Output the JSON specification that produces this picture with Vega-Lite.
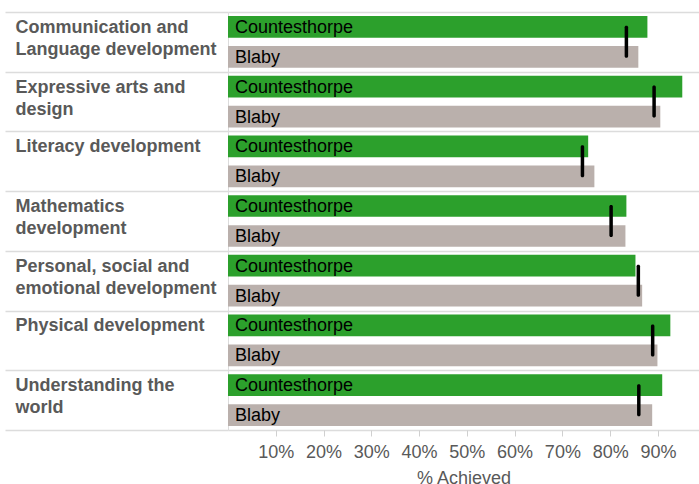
{
  "$schema": "https://vega.github.io/schema/vega-lite/v6.json",
  "width": 471,
  "height": 418,
  "padding": {"left": 228, "top": 12, "right": 0, "bottom": 54},
  "autosize": {"type": "none"},
  "config": {"view": {"stroke": null}, "font": "Liberation Sans"},
  "datasets": {
    "bars": [
      {"category": "Communication and Language development", "series": "Countesthorpe", "value": 0.878},
      {"category": "Communication and Language development", "series": "Blaby", "value": 0.859},
      {"category": "Expressive arts and design", "series": "Countesthorpe", "value": 0.951},
      {"category": "Expressive arts and design", "series": "Blaby", "value": 0.905},
      {"category": "Literacy development", "series": "Countesthorpe", "value": 0.754},
      {"category": "Literacy development", "series": "Blaby", "value": 0.767},
      {"category": "Mathematics development", "series": "Countesthorpe", "value": 0.834},
      {"category": "Mathematics development", "series": "Blaby", "value": 0.832},
      {"category": "Personal, social and emotional development", "series": "Countesthorpe", "value": 0.853},
      {"category": "Personal, social and emotional development", "series": "Blaby", "value": 0.867},
      {"category": "Physical development", "series": "Countesthorpe", "value": 0.926},
      {"category": "Physical development", "series": "Blaby", "value": 0.899},
      {"category": "Understanding the world", "series": "Countesthorpe", "value": 0.909},
      {"category": "Understanding the world", "series": "Blaby", "value": 0.888}
    ],
    "bench": [
      {"category": "Communication and Language development", "value": 0.834},
      {"category": "Expressive arts and design", "value": 0.892},
      {"category": "Literacy development", "value": 0.742},
      {"category": "Mathematics development", "value": 0.802},
      {"category": "Personal, social and emotional development", "value": 0.859},
      {"category": "Physical development", "value": 0.889},
      {"category": "Understanding the world", "value": 0.860}
    ]
  },
  "encoding": {
    "y": {
      "field": "category",
      "type": "nominal",
      "sort": null,
      "scale": {"paddingInner": 0, "paddingOuter": 0},
      "axis": {
        "title": null,
        "tickBand": "extent",
        "grid": true,
        "gridColor": "#dcdcdc",
        "gridWidth": 1.5,
        "ticks": true,
        "tickSize": 223,
        "tickColor": "#dcdcdc",
        "tickWidth": 1.5,
        "domain": true,
        "domainColor": "#dcdcdc",
        "domainWidth": 1,
        "labelAlign": "left",
        "labelBaseline": "alphabetic",
        "labelPadding": -10,
        "labelOffset": -9.5,
        "labelFontSize": 18,
        "labelFontWeight": "bold",
        "labelColor": "#595959",
        "labelLineHeight": 22,
        "labelLimit": 0,
        "labelExpr": "datum.label == 'Communication and Language development' ? ['Communication and', 'Language development'] : datum.label == 'Expressive arts and design' ? ['Expressive arts and', 'design'] : datum.label == 'Mathematics development' ? ['Mathematics', 'development'] : datum.label == 'Personal, social and emotional development' ? ['Personal, social and', 'emotional development'] : datum.label == 'Understanding the world' ? ['Understanding the', 'world'] : datum.label"
      }
    },
    "x": {
      "field": "value",
      "type": "quantitative",
      "scale": {"domain": [0, 0.986], "nice": false, "zero": true},
      "axis": {
        "title": "% Achieved",
        "values": [0.1, 0.2, 0.3, 0.4, 0.5, 0.6, 0.7, 0.8, 0.9],
        "format": ".0%",
        "grid": false,
        "domain": false,
        "ticks": true,
        "tickSize": 6,
        "tickColor": "#d0d0d0",
        "labelFontSize": 18,
        "labelColor": "#595959",
        "labelPadding": 7,
        "titleFontSize": 18,
        "titleFontWeight": "normal",
        "titleColor": "#595959",
        "titlePadding": 8
      }
    }
  },
  "layer": [
    {
      "data": {"name": "bars"},
      "mark": {"type": "bar"},
      "encoding": {
        "yOffset": {
          "field": "series",
          "type": "nominal",
          "sort": ["Countesthorpe", "Blaby"],
          "scale": {"paddingInner": 0.277, "paddingOuter": 0.133}
        },
        "color": {
          "field": "series",
          "type": "nominal",
          "scale": {"domain": ["Countesthorpe", "Blaby"], "range": ["#2ca02c", "#bab0ac"]},
          "legend": null
        }
      }
    },
    {
      "data": {"name": "bars"},
      "mark": {"type": "text", "align": "left", "baseline": "middle", "dx": 7, "dy": 1, "fontSize": 18, "color": "#000000"},
      "encoding": {
        "x": {"datum": 0, "type": "quantitative"},
        "yOffset": {
          "field": "series",
          "type": "nominal",
          "sort": ["Countesthorpe", "Blaby"],
          "scale": {"paddingInner": 0.277, "paddingOuter": 0.133}
        },
        "text": {"field": "series", "type": "nominal"}
      }
    },
    {
      "data": {"name": "bench"},
      "mark": {"type": "tick", "color": "#000000", "size": 32, "thickness": 3.5, "cornerRadius": 1.5, "opacity": 1},
      "encoding": {}
    }
  ]
}
